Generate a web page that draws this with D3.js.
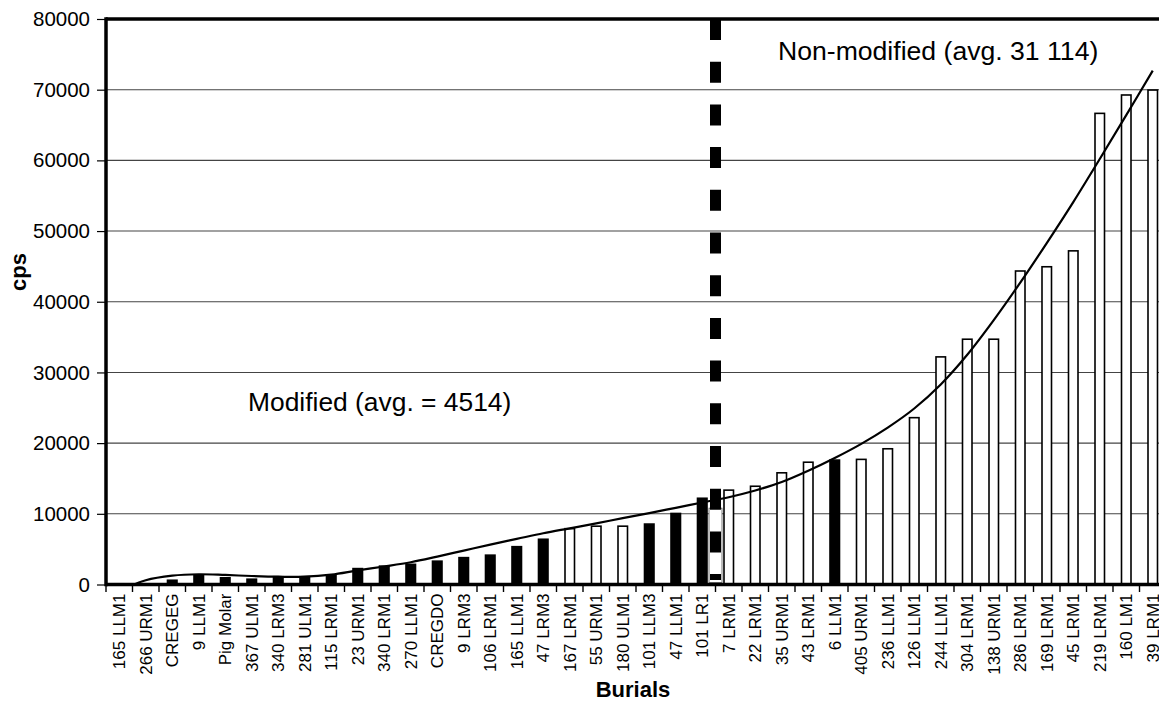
<!DOCTYPE html>
<html>
<head>
<meta charset="utf-8">
<script src="https://cdn.jsdelivr.net/npm/d3@7"></script>
<style>
  body { margin: 0; background: #fff; }
  text { font-family: "Liberation Sans", Arial, Helvetica, sans-serif; }
</style>
</head>
<body>
<div id="chart"></div>
<script>
// burials (x categories), left to right
const burials = ["165 LLM1", "266 URM1", "CREGEG", "9 LLM1", "Pig Molar", "367 ULM1", "340 LRM3", "281 ULM1",
  "115 LRM1", "23 URM1", "340 LRM1", "270 LLM1", "CREGDO", "9 LRM3", "106 LRM1", "165 LLM1", "47 LRM3",
  "167 LRM1", "55 URM1", "180 ULM1", "101 LLM3", "47 LLM1", "101 LR1", "7 LRM1", "22 LRM1", "35 URM1",
  "43 LRM1", "6 LLM1", "405 URM1", "236 LLM1", "126 LLM1", "244 LLM1", "304 LRM1", "138 URM1", "286 LRM1",
  "169 LRM1", "45 LRM1", "219 LRM1", "160 LM1", "39 LRM1"];

// cps per burial
const cps = [100, 100, 600, 1350, 950, 750, 1100, 1100, 1250, 2250, 2600, 2850, 3300, 3800, 4150, 5350, 6400,
  7900, 8250, 8250, 8550, 10050, 12200, 13350, 13900, 15800, 17300, 17600, 17700, 19200, 23600, 32200,
  34700, 34700, 44350, 44950, 47200, 66650, 69250, 69950];

// modified (filled) or not (hollow)
const modified = [1, 1, 1, 1, 1, 1, 1, 1, 1, 1, 1, 1, 1, 1, 1, 1, 1, 0, 0, 0, 1, 1, 1, 0, 0, 0, 0, 1, 0, 0,
  0, 0, 0, 0, 0, 0, 0, 0, 0, 0];

// trend curve read at each category centre
const trend = [-900, 600, 1250, 1450, 1350, 1200, 1100, 1100, 1400, 2000, 2550, 3150, 3950, 4800, 5650,
  6450, 7250, 7950, 8650, 9400, 10100, 10850, 11600, 12350, 13300, 14500, 16100, 17900, 19900, 22200,
  24900, 28300, 32500, 37400, 42700, 48300, 54100, 60200, 66400, 72700];

const yTicks = [0, 10000, 20000, 30000, 40000, 50000, 60000, 70000, 80000];
const splitAfter = 22;   // dashed divider after "101 LR1"

// set the dimensions and margins of the graph
const margin = {top: 19, right: 0, bottom: 117.5, left: 106},
  width = 1060,
  height = 565.5;

const svg = d3.select("#chart")
  .append("svg")
  .attr("width", 1159)
  .attr("height", 702)
  .append("g")
  .attr("transform", `translate(${margin.left},${margin.top})`);

const x = d3.scaleBand()
  .domain(d3.range(burials.length))
  .range([0, width])
  .padding(0);

const y = d3.scaleLinear()
  .domain([0, 80000])
  .range([height, 0]);

// gridlines
svg.selectAll(".grid")
  .data(yTicks.slice(1, -1))
  .join("line")
  .attr("x1", 0)
  .attr("x2", width)
  .attr("y1", d => y(d))
  .attr("y2", d => y(d))
  .attr("stroke", "#444")
  .attr("stroke-width", 1.1);

// bars
const barW = 9.5;
svg.selectAll(".bar")
  .data(cps)
  .join("rect")
  .attr("x", (d, i) => x(i) + (x.bandwidth() - barW) / 2)
  .attr("y", d => y(d))
  .attr("width", barW)
  .attr("height", d => height - y(d))
  .attr("fill", (d, i) => modified[i] ? "#000" : "#fff")
  .attr("stroke", "#000")
  .attr("stroke-width", 1.6);

// divider box + dashed line
const xs = x(splitAfter + 1);
svg.append("rect")
  .attr("x", xs - 6.5)
  .attr("y", y(10800))
  .attr("width", 13)
  .attr("height", height - y(10800) - 2)
  .attr("fill", "#fff")
  .attr("stroke", "#555")
  .attr("stroke-width", 0.8);

svg.append("line")
  .attr("x1", xs)
  .attr("x2", xs)
  .attr("y1", 0)
  .attr("y2", height - 4.5)
  .attr("stroke", "#000")
  .attr("stroke-width", 11)
  .attr("stroke-dasharray", "21 21.7");

// trend curve
svg.append("clipPath")
  .attr("id", "plotclip")
  .append("rect")
  .attr("width", width)
  .attr("height", height);

svg.append("path")
  .datum(trend)
  .attr("clip-path", "url(#plotclip)")
  .attr("fill", "none")
  .attr("stroke", "#000")
  .attr("stroke-width", 2.2)
  .attr("d", d3.line()
    .x((d, i) => x(i) + x.bandwidth() / 2)
    .y(d => y(d))
    .curve(d3.curveCatmullRom));

// Y axis
const yAxis = svg.append("g")
  .call(d3.axisLeft(y).tickValues(yTicks).tickSize(9).tickPadding(7).tickFormat(d3.format("d")));
yAxis.select(".domain").remove();
yAxis.selectAll("text").attr("font-size", "20.5px").attr("fill", "#000").style("font-family", "'Liberation Sans', Arial, sans-serif");
yAxis.selectAll("line").attr("stroke-width", 1.2);

// X axis ticks on category boundaries
svg.selectAll(".xtick")
  .data(d3.range(burials.length + 1))
  .join("line")
  .attr("x1", i => i * x.step())
  .attr("x2", i => i * x.step())
  .attr("y1", height)
  .attr("y2", height + 7.5)
  .attr("stroke", "#000")
  .attr("stroke-width", 1.4);

svg.selectAll(".xlab")
  .data(burials)
  .join("text")
  .attr("transform", (d, i) => `translate(${x(i) + x.bandwidth() / 2},${height + 9}) rotate(-90)`)
  .attr("dy", "0.35em")
  .attr("text-anchor", "end")
  .attr("font-size", "17px")
  .text(d => d);

// frame
svg.append("line").attr("x1", 0).attr("x2", width).attr("y1", 0).attr("y2", 0)
  .attr("stroke", "#000").attr("stroke-width", 3.5);
svg.append("line").attr("x1", 0).attr("x2", width).attr("y1", height).attr("y2", height)
  .attr("stroke", "#000").attr("stroke-width", 3.5);
svg.append("line").attr("x1", 0).attr("x2", 0).attr("y1", -1.75).attr("y2", height + 1.75)
  .attr("stroke", "#000").attr("stroke-width", 3.5);

// Annotations
svg.append("text")
  .attr("x", 142)
  .attr("y", 392)
  .attr("font-size", "26.4px")
  .text("Modified (avg. = 4514)");

svg.append("text")
  .attr("x", 672)
  .attr("y", 41)
  .attr("font-size", "26.6px")
  .text("Non-modified (avg. 31 114)");

// axis titles
svg.append("text")
  .attr("x", 527)
  .attr("y", 678)
  .attr("text-anchor", "middle")
  .attr("font-size", "22px")
  .attr("font-weight", "bold")
  .text("Burials");

svg.append("text")
  .attr("transform", "rotate(-90)")
  .attr("x", -253)
  .attr("y", -80)
  .attr("text-anchor", "middle")
  .attr("font-size", "22px")
  .attr("font-weight", "bold")
  .text("cps");
</script>
</body>
</html>
